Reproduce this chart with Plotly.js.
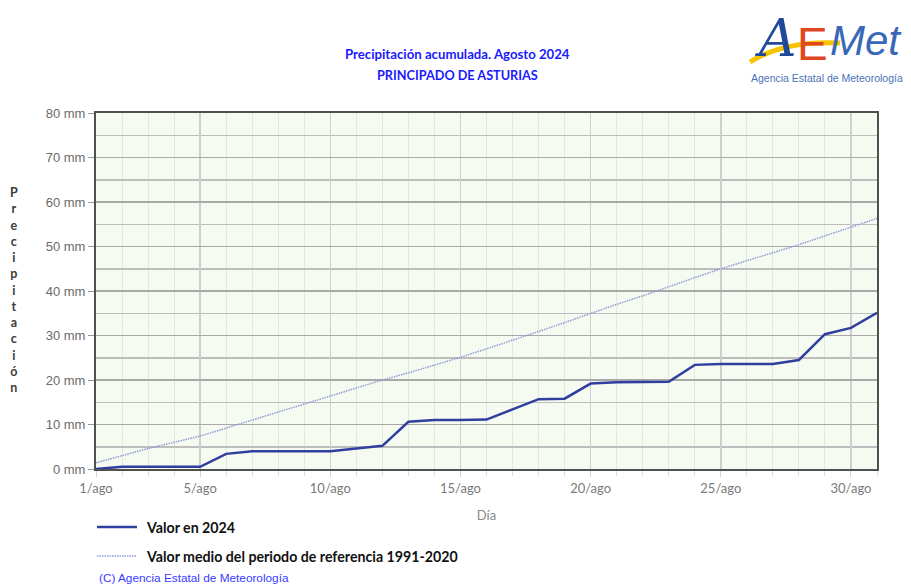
<!DOCTYPE html>
<html>
<head>
<meta charset="utf-8">
<script src="https://cdn.plot.ly/plotly-3.0.1.min.js"></script>
<style>html,body{margin:0;padding:0;background:#fff;}#chart{width:911px;height:587px;}</style>
</head>
<body>
<div id="chart"></div>
<script>
// Data
const days = [1,2,3,4,5,6,7,8,9,10,11,12,13,14,15,16,17,18,19,20,21,22,23,24,25,26,27,28,29,30,31];
const valor2024 = [0,0.5,0.5,0.5,0.5,3.4,4.0,4.0,4.0,4.0,4.6,5.2,10.6,11.0,11.0,11.1,13.4,15.7,15.8,19.2,19.5,19.5,19.6,23.4,23.6,23.6,23.6,24.5,30.3,31.7,35.1];
const valorMedio = [1.4,3.0,4.6,6.0,7.4,9.2,11.0,12.8,14.5,16.3,18.2,20.0,21.6,23.3,25.1,27.0,28.9,30.9,32.9,35.0,37.0,38.9,41.0,43.0,45.0,46.8,48.6,50.4,52.4,54.4,56.3];
const xTickVals = [1,5,10,15,20,25,30];
const xTickText = ["1/ago","5/ago","10/ago","15/ago","20/ago","25/ago","30/ago"];
const yTickVals = [0,10,20,30,40,50,60,70,80];
const yTickText = ["0 mm","10 mm","20 mm","30 mm","40 mm","50 mm","60 mm","70 mm","80 mm"];
const seriesNames = ["Valor en 2024","Valor medio del periodo de referencia 1991-2020"];
const seriesColors = ['#2e3f9f','#8e9ad4'];

const traces = [
  {x: days, y: valor2024, type:'scatter', mode:'lines', name: seriesNames[0],
   line:{color:seriesColors[0], width:2.5}, showlegend:false},
  {x: days, y: valorMedio, type:'scatter', mode:'lines', name: seriesNames[1],
   line:{color:seriesColors[1], width:1.5, dash:'1.5px,1px'}, showlegend:false}
];

const yLetters = "Precipitación".split("").join("<br>");

// plot-area geometry (pixels) for placing decorations
const L = 96, R = 34, T = 113, B = 118;
const W = 911 - L - R, H = 587 - T - B;
function px(x){return (x - L) / W;}
function py(y){return (587 - B - y) / H;}

const legendFont = {family:'Lato, "Open Sans", sans-serif', size:14.2, color:'#111', weight:'bold'};

const layout = {
  width:911, height:587,
  margin:{l:L, r:R, t:T, b:B},
  paper_bgcolor:'#ffffff',
  plot_bgcolor:'#f6fbf2',
  showlegend:false,
  xaxis:{
    range:[1,31], tickmode:'array', tickvals:xTickVals, ticktext:xTickText,
    showgrid:true, gridcolor:'#cfcfcf', gridwidth:1.5,
    ticks:'outside', ticklen:6, tickcolor:'#d0d0d0',
    tickfont:{family:'Lato, "Open Sans", sans-serif', size:13, color:'#7a7a7a'},
    showline:true, linecolor:'#505050', linewidth:2, mirror:true,
    zeroline:false, fixedrange:true,
    minor:{tickmode:'linear', tick0:1, dtick:1, showgrid:true, gridcolor:'#e4e6e2', gridwidth:1,
           ticks:'outside', ticklen:5, tickcolor:'#dcdcdc'},
    title:{text:'Día', font:{family:'Lato, "Open Sans", sans-serif', size:13, color:'#8a8a8a'}, standoff:16}
  },
  yaxis:{
    range:[0,80], tickmode:'array', tickvals:yTickVals, ticktext:yTickText,
    showgrid:true, gridcolor:'#a9a9a9', gridwidth:1.5,
    ticks:'outside', ticklen:6, tickcolor:'#9a9a9a',
    tickfont:{family:'"Liberation Sans", Arial, sans-serif', size:13, color:'#6a6a6a'},
    showline:true, linecolor:'#505050', linewidth:2, mirror:true,
    zeroline:false, fixedrange:true,
    minor:{tickmode:'linear', tick0:0, dtick:5, showgrid:true, gridcolor:'#bdbdbd', gridwidth:1.5}
  },
  annotations:[
    {text:'Precipitación acumulada. Agosto 2024', xref:'paper', yref:'paper', x:px(457), y:py(54), xanchor:'center', yanchor:'middle',
     showarrow:false, font:{family:'Lato, "Open Sans", sans-serif', size:13.2, color:'#1a1aff', weight:'bold'}},
    {text:'PRINCIPADO DE ASTURIAS', xref:'paper', yref:'paper', x:px(457), y:py(75), xanchor:'center', yanchor:'middle',
     showarrow:false, font:{family:'Lato, "Open Sans", sans-serif', size:12.7, color:'#1a1aff', weight:'bold'}},
    {text:yLetters, xref:'paper', yref:'paper', x:px(14), y:py(290), xanchor:'center', yanchor:'middle',
     showarrow:false, align:'center', font:{family:'Lato, "Open Sans", sans-serif', size:12.5, color:'#3a3a3a', weight:'bold'}},
    {text:'(C) Agencia Estatal de Meteorología', xref:'paper', yref:'paper', x:px(97), y:py(578), xanchor:'left', yanchor:'middle',
     showarrow:false, font:{family:'"Liberation Sans", Arial, sans-serif', size:11.8, color:'#3a3aff'}},
    // legend texts
    {text:seriesNames[0], xref:'paper', yref:'paper', x:px(144), y:py(527), xanchor:'left', yanchor:'middle',
     showarrow:false, font:legendFont},
    {text:seriesNames[1], xref:'paper', yref:'paper', x:px(144), y:py(556), xanchor:'left', yanchor:'middle',
     showarrow:false, font:legendFont},
    // Logo
    {text:'<i>A</i>', xref:'paper', yref:'paper', x:px(776), y:py(38), xanchor:'center', yanchor:'middle', showarrow:false,
     font:{family:'"DejaVu Serif", serif', size:52, color:'#1f4a9a'}},
    {text:'E', xref:'paper', yref:'paper', x:px(812), y:py(44), xanchor:'center', yanchor:'middle', showarrow:false,
     font:{family:'"Liberation Sans", sans-serif', size:46, color:'#e0461f'}},
    {text:'<i>Met</i>', xref:'paper', yref:'paper', x:px(866), y:py(40), xanchor:'center', yanchor:'middle', showarrow:false,
     font:{family:'"Liberation Sans", sans-serif', size:42, color:'#3a68b8'}},
    {text:'Agencia Estatal de Meteorología', xref:'paper', yref:'paper', x:px(827), y:py(78), xanchor:'center', yanchor:'middle', showarrow:false,
     font:{family:'"Liberation Sans", sans-serif', size:10.5, color:'#4a72b8'}}
  ],
  shapes:[
    {type:'line', xref:'paper', yref:'paper', x0:px(97), x1:px(137), y0:py(527), y1:py(527),
     line:{color:seriesColors[0], width:2.5}},
    {type:'line', xref:'paper', yref:'paper', x0:px(97), x1:px(137), y0:py(556), y1:py(556),
     line:{color:seriesColors[1], width:1.5, dash:'1.5px,1px'}},
    {type:'path', xref:'paper', yref:'paper',
     path:'M '+px(750)+' '+py(62)+' Q '+px(785)+' '+py(40)+' '+px(840)+' '+py(43),
     line:{color:'#f5c400', width:5}}
  ]
};

Plotly.newPlot('chart', traces, layout, {displayModeBar:false, staticPlot:true});
</script>
</body>
</html>
